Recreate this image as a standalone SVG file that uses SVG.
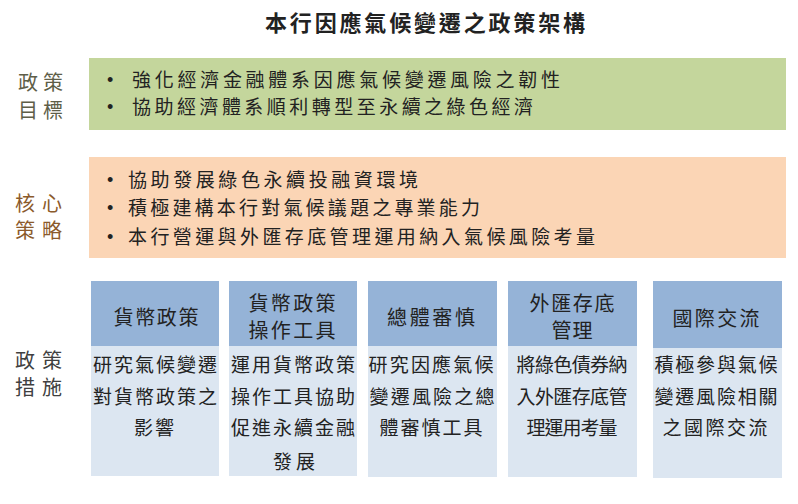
<svg xmlns="http://www.w3.org/2000/svg" width="798" height="504" viewBox="0 0 798 504">
<style>
text{font-family:"Noto Sans CJK TC","Noto Sans CJK SC",sans-serif;fill:#222}
.title{font-size:22px;font-weight:bold}
.lab{font-size:20px}
.item{font-size:19px}
.bul{font-family:"Liberation Sans",sans-serif;font-size:18px}
.hd{font-size:20px;text-anchor:middle}
.bd{font-size:19px;text-anchor:middle}
.hdr{fill:#95b3d7}
.body{fill:#dce6f1}
</style>
<rect width="798" height="504" fill="#ffffff"/>
<g id="title"><text class="title" x="265" y="31" textLength="320" lengthAdjust="spacing">本行因應氣候變遷之政策架構</text></g>

<g id="label-goals">
<text class="lab" x="18" y="90" textLength="45" style="fill:#5e5e48">政策</text>
<text class="lab" x="18" y="118" textLength="45" style="fill:#5e5e48">目標</text>
</g>
<g id="goals">
<rect x="89" y="58" width="697" height="72" fill="#c4d69c"/>
<text class="bul" x="107" y="86">•</text>
<text class="item" x="132" y="87" textLength="428" lengthAdjust="spacing">強化經濟金融體系因應氣候變遷風險之韌性</text>
<text class="bul" x="107" y="113">•</text>
<text class="item" x="132" y="114" textLength="401" lengthAdjust="spacing">協助經濟體系順利轉型至永續之綠色經濟</text>
</g>

<g id="label-strategy">
<text class="lab" x="15" y="211" textLength="47" style="fill:#8b5a2b">核心</text>
<text class="lab" x="15" y="238" textLength="47" style="fill:#8b5a2b">策略</text>
</g>
<g id="strategy">
<rect x="89" y="157" width="697" height="101" fill="#fbd5b5"/>
<text class="bul" x="107" y="186">•</text>
<text class="item" x="128" y="187" textLength="290" lengthAdjust="spacing">協助發展綠色永續投融資環境</text>
<text class="bul" x="107" y="214">•</text>
<text class="item" x="128" y="215" textLength="352" lengthAdjust="spacing">積極建構本行對氣候議題之專業能力</text>
<text class="bul" x="107" y="243">•</text>
<text class="item" x="128" y="244" textLength="467" lengthAdjust="spacing">本行營運與外匯存底管理運用納入氣候風險考量</text>
</g>

<g id="label-measures">
<text class="lab" x="15" y="368" textLength="47" style="fill:#404040">政策</text>
<text class="lab" x="15" y="395" textLength="47" style="fill:#404040">措施</text>
</g>

<g id="m1">
<rect class="body" x="91" y="281" width="128" height="195"/>
<rect class="hdr" x="91" y="281" width="128" height="65"/>
<text class="hd" x="156" y="325" textLength="85">貨幣政策</text>
<text class="bd" x="155" y="372" textLength="124">研究氣候變遷</text>
<text class="bd" x="155" y="404" textLength="124">對貨幣政策之</text>
<text class="bd" x="154" y="435" textLength="40">影響</text>
</g>
<g id="m2">
<rect class="body" x="229" y="281" width="128" height="195"/>
<rect class="hdr" x="229" y="281" width="128" height="65"/>
<text class="hd" x="292" y="311" textLength="87">貨幣政策</text>
<text class="hd" x="292" y="338" textLength="87">操作工具</text>
<text class="bd" x="293" y="372" textLength="124">運用貨幣政策</text>
<text class="bd" x="293" y="404" textLength="124">操作工具協助</text>
<text class="bd" x="293" y="435" textLength="124">促進永續金融</text>
<text class="bd" x="294" y="469" textLength="42">發展</text>
</g>
<g id="m3">
<rect class="body" x="368" y="281" width="129" height="196"/>
<rect class="hdr" x="368" y="281" width="129" height="65"/>
<text class="hd" x="431" y="325" textLength="88">總體審慎</text>
<text class="bd" x="431" y="372" textLength="125">研究因應氣候</text>
<text class="bd" x="432" y="404" textLength="125">變遷風險之總</text>
<text class="bd" x="431" y="435" textLength="103">體審慎工具</text>
</g>
<g id="m4">
<rect class="body" x="508" y="281" width="129" height="196"/>
<rect class="hdr" x="508" y="281" width="129" height="65"/>
<text class="hd" x="572" y="311" textLength="85">外匯存底</text>
<text class="hd" x="572" y="338" textLength="41">管理</text>
<text class="bd" x="572" y="372" textLength="111">將綠色債券納</text>
<text class="bd" x="572" y="404" textLength="111">入外匯存底管</text>
<text class="bd" x="572" y="435" textLength="91">理運用考量</text>
</g>
<g id="m5">
<rect class="body" x="653" y="281" width="129" height="197"/>
<rect class="hdr" x="653" y="281" width="129" height="67"/>
<text class="hd" x="716" y="326" textLength="87">國際交流</text>
<text class="bd" x="716" y="372" textLength="123">積極參與氣候</text>
<text class="bd" x="716" y="404" textLength="123">變遷風險相關</text>
<text class="bd" x="715" y="435" textLength="105">之國際交流</text>
</g>
<g id="connectors"/>
</svg>
